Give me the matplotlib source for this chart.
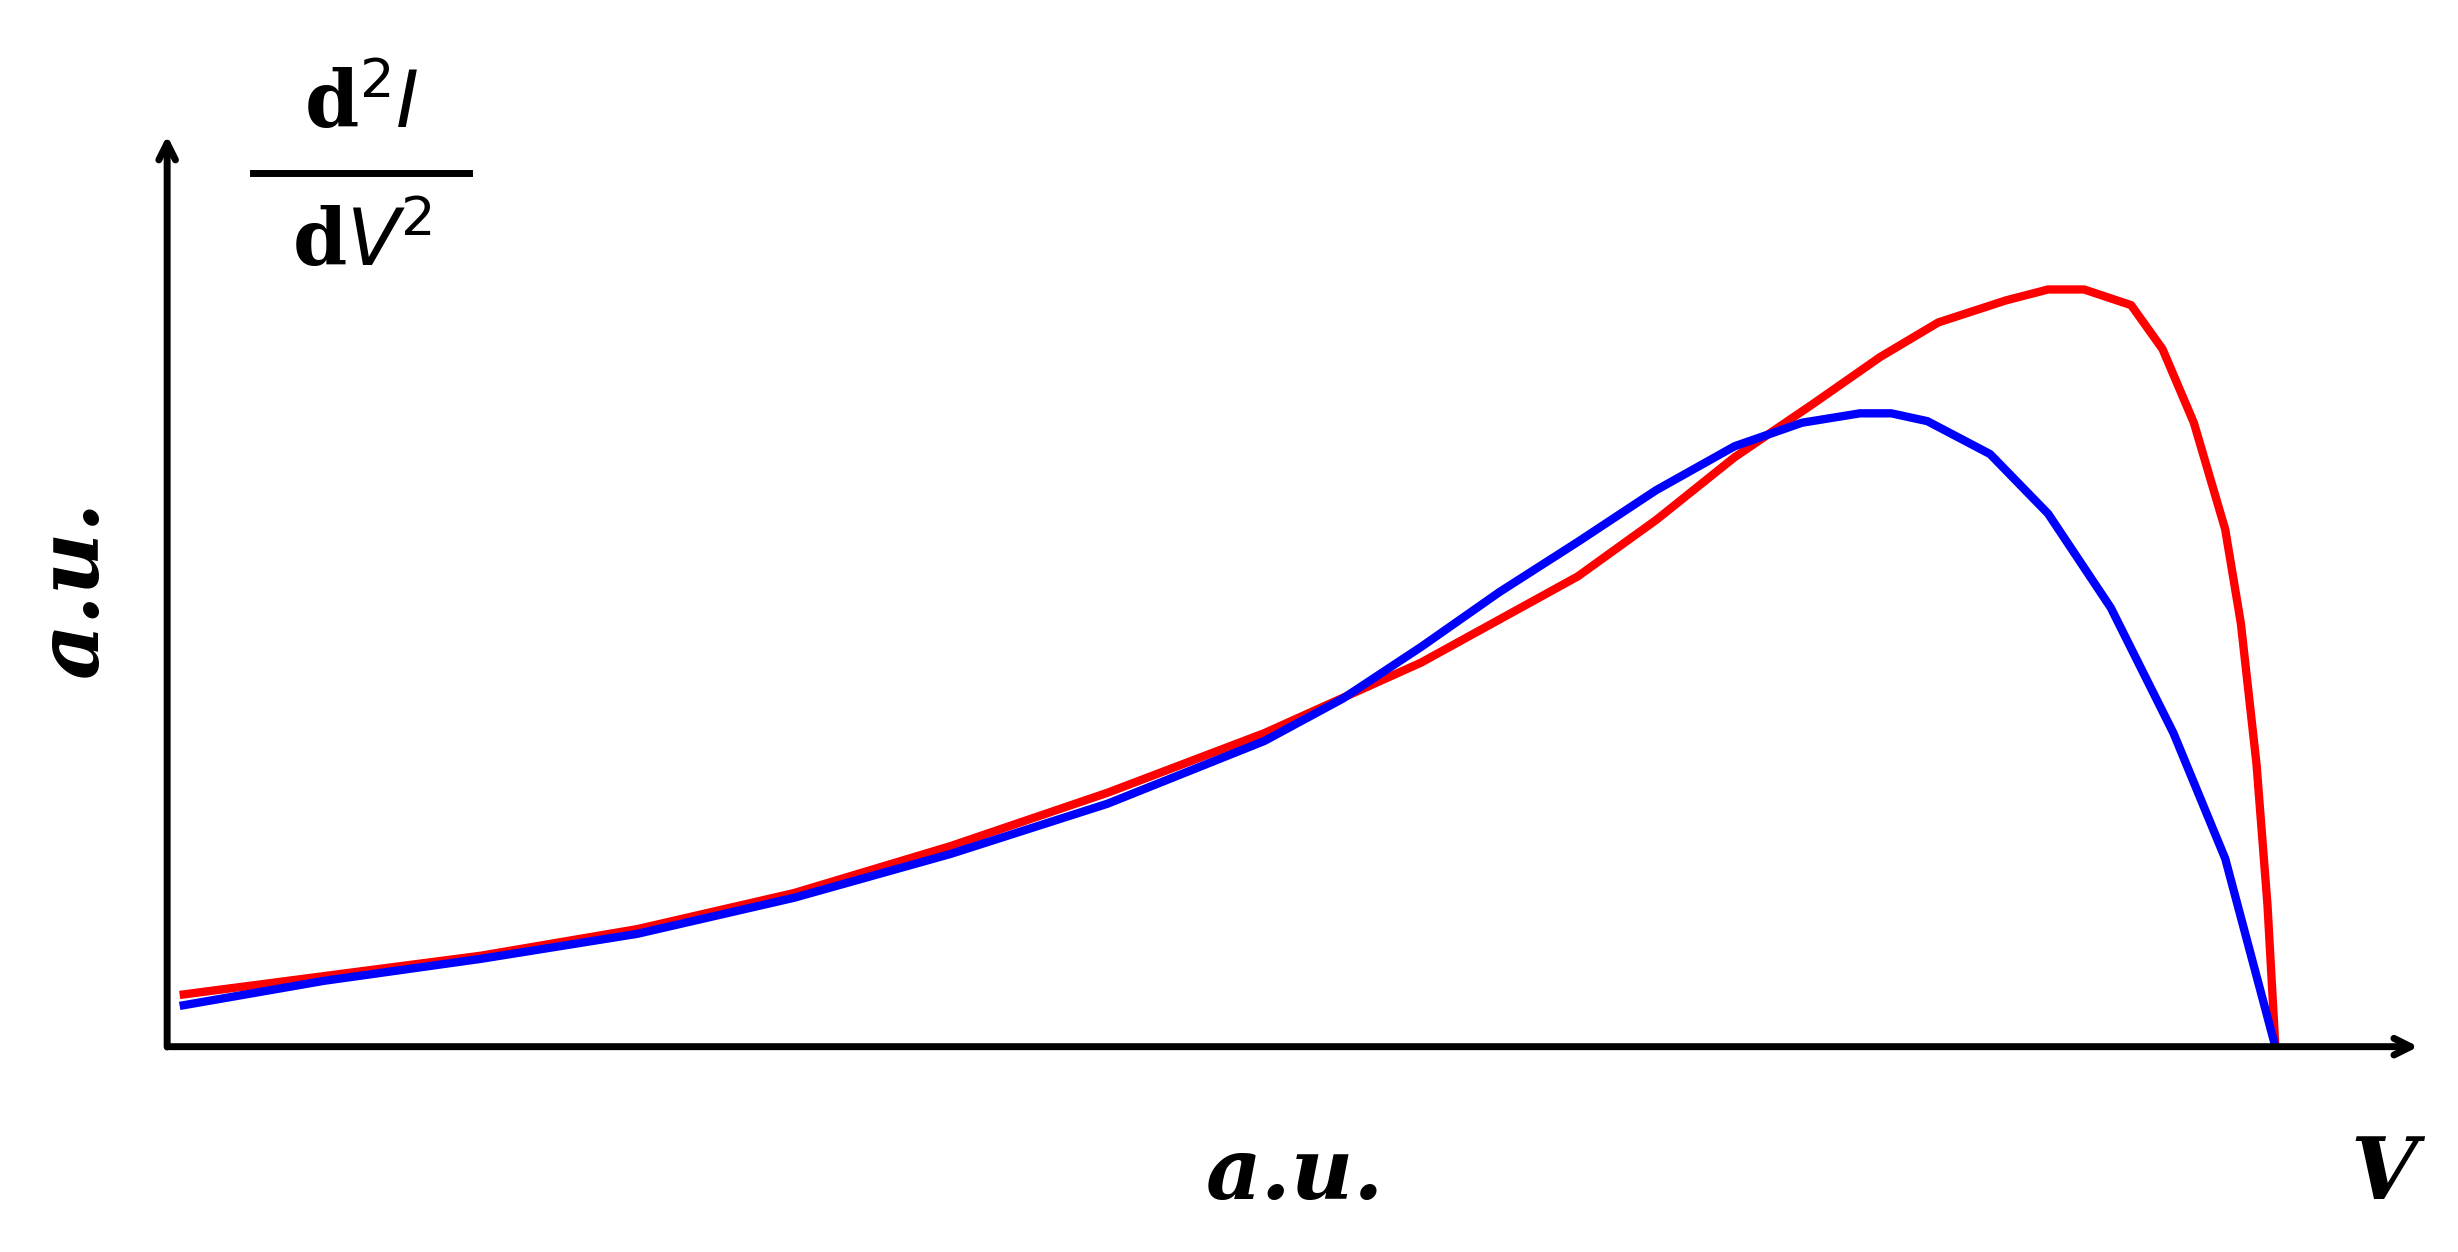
import matplotlib
matplotlib.use("Agg")
import matplotlib.pyplot as plt

# data (x, y in arbitrary units)
red_x = [8, 100, 200, 300, 400, 500, 600, 700, 800, 900, 950, 1000, 1050, 1093, 1130, 1173, 1200, 1223, 1253, 1273, 1293, 1313, 1323, 1333, 1340, 1345]
red_y = [33, 45, 58, 75, 98, 128, 162, 200, 245, 300, 336, 376, 410, 440, 462, 476, 483, 483, 473, 445, 398, 330, 270, 180, 90, 0]
blue_x = [8, 100, 200, 300, 400, 500, 600, 700, 750, 800, 850, 900, 950, 1000, 1043, 1080, 1100, 1123, 1163, 1200, 1240, 1280, 1313, 1345]
blue_y = [26, 42, 56, 72, 95, 123, 155, 195, 222, 255, 290, 322, 355, 383, 398, 404, 404, 399, 378, 340, 280, 200, 120, 0]

fig = plt.figure(figsize=(24.58, 12.52), dpi=100)
ax = fig.add_axes([0.068, 0.164, 0.917, 0.73])
ax.set_xlim(0, 1438)
ax.set_ylim(0, 583)
ax.axis("off")

ax.plot(red_x, red_y, color="#ff0000", lw=6, solid_capstyle="butt", clip_on=False)
ax.plot(blue_x, blue_y, color="#0000ff", lw=6, solid_capstyle="butt", clip_on=False)

arrow = dict(arrowstyle="-|>,head_length=0", lw=5, color="black")
ax.annotate("", xy=(1438, 0), xytext=(0, 0), arrowprops=dict(arrowstyle="->,head_length=1.2,head_width=0.6", lw=5, color="black"), annotation_clip=False)
ax.annotate("", xy=(0, 583), xytext=(0, -2), arrowprops=dict(arrowstyle="->,head_length=1.2,head_width=0.6", lw=5, color="black"), annotation_clip=False)

tfont = dict(family="DejaVu Serif", weight="bold", style="italic")
fig.text(0.527, 0.028, "a.u.", fontsize=62, ha="center", va="bottom", **tfont)
fig.text(0.970, 0.028, "V", fontsize=62, ha="center", va="bottom", **tfont)
fig.text(0.030, 0.53, "a.u.", fontsize=62, ha="center", va="center", rotation=90, **tfont)

fig.text(0.147, 0.915, r"d$^2$$\mathit{I}$", fontsize=56, weight="bold", ha="center", va="center", family="DejaVu Serif")
fig.text(0.147, 0.805, r"d$\mathit{V}$$^2$", fontsize=56, weight="bold", ha="center", va="center", family="DejaVu Serif")
fig.add_artist(plt.Line2D([0.103, 0.191], [0.862, 0.862], color="black", lw=5))

fig.savefig("out.png", dpi=100)
